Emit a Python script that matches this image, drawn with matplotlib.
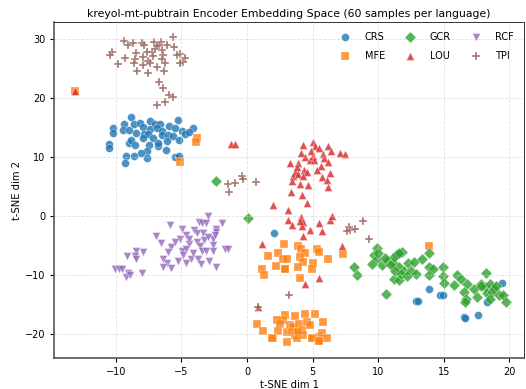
import matplotlib
matplotlib.use('Agg')
import matplotlib.pyplot as plt

# t-SNE coordinates, per language
crs_x = [-8.85, -10.25, -10.2, -9.4, -9.44, -9.0, -8.6, -8.17, -7.96, -8.47, -7.84, -7.4, -7.4, -7.58,
         -7.0, -6.64, -6.85, -6.46, -7.15, -6.5, -5.93, -6.0, -6.13, -5.5, -5.67, -5.3, -4.99, -5.2,
         -4.7, -4.1, -10.5, -10.5, -9.0, -8.88, -8.53, -7.48, -7.66, -8.1, -8.6, -9.24, -9.3, -7.66,
         -6.77, -6.2, -5.5, -5.17, -6.8, -7.9, -4.4, 2.08, 13.9, 14.7, 14.9, 12.9, 13.0, 16.5, 16.6,
         17.6, 18.3, 19.4]
crs_y = [16.8, 15.0, 14.2, 15.6, 14.6, 14.6, 15.7, 15.8, 15.1, 14.2, 14.0, 16.2, 14.8, 14.0,
         15.6, 15.7, 14.9, 14.5, 13.3, 13.7, 15.3, 13.7, 12.8, 14.9, 13.6, 16.3, 14.5, 13.0,
         14.0, 15.0, 12.2, 11.5, 12.5, 12.9, 12.1, 12.1, 11.1, 10.7, 10.2, 10.3, 9.0, 9.9,
         11.9, 11.3, 10.1, 10.3, 12.5, 13.2, 14.3, -2.9, -12.3, -13.3, -13.4, -14.4, -14.4, -17.1, -17.2,
         -16.8, -14.6, -11.3]

mfe_x = [2.82, 3.92, 4.1, 4.43, 5.32, 5.45, 6.16, 7.35, 1.63, 2.39, 2.77, 3.03, 4.05, 4.25, 2.19,
         2.9, 3.92, 5.01, 4.94, 1.12, 1.32, 4.05, 2.9,
         2.9, 2.77, 2.27, 2.52, 2.39, 1.96, 3.08, 3.03, 3.66, 3.28, 3.53, 3.41, 3.66, 3.84, 3.99,
         4.17, 4.3, 4.43, 4.6, 4.81, 4.94, 5.19, 5.45, 5.45, 5.7, 5.78, 6.13, 3.92, 0.74, 1.25,
         1.88, 4.94, 5.45, -13.1, -3.84, -3.92, -5.11, 13.9]
mfe_y = [-4.7, -5.0, -5.5, -6.3, -5.6, -6.0, -7.2, -6.4, -6.7, -6.2, -7.2, -7.2, -6.9, -7.8, -8.4,
         -8.9, -8.6, -8.0, -8.9, -8.9, -9.9, -10.4, -9.0,
         -16.8, -17.5, -17.6, -18.2, -19.5, -20.6, -19.6, -21.3, -16.9, -18.5, -18.8, -19.6, -20.2,
         -20.7, -18.2, -19.3, -20.2, -16.6, -17.9, -18.5, -20.7, -16.6, -20.5, -21.2, -19.8, -17.9,
         -20.6, -19.6, -18.3, -19.4, -20.6, -20.7, -21.1, 21.2, 13.3, 12.6, 9.2, -5.1]

gcr_x = [-2.39, 0.08, 8.17, 8.37, 10.6, 11.8, 11.4, 11.1, 11.55, 12.0, 12.3, 12.75, 12.5, 12.9,
         11.2, 11.6, 13.3, 13.9, 13.9, 14.2, 13.9, 14.9, 14.9, 15.0, 15.75, 16.0, 16.3, 16.8, 16.5,
         16.7, 16.6, 17.3, 17.5, 17.8, 18.2, 18.1, 18.3, 18.5, 18.7, 18.5, 18.85, 19.0, 19.2, 19.5,
         19.7, 17.8, 9.7, 9.9, 9.5, 10.3, 10.7, 11.0, 11.2, 11.55, 11.3, 11.7, 9.9, 9.97, 10.5, 12.2]
gcr_y = [5.9, -0.3, -8.6, -10.0, -13.1, -6.0, -6.4, -8.0, -8.6, -9.3, -7.9, -7.8, -9.3, -9.8,
         -10.7, -10.8, -7.2, -6.2, -8.6, -8.9, -10.0, -8.6, -10.2, -11.3, -11.7, -10.0, -10.6, -11.4,
         -12.8, -14.1, -14.5, -12.3, -13.7, -11.4, -9.6, -12.0, -13.0, -11.5, -12.8, -14.0, -12.3,
         -11.9, -13.4, -13.3, -14.5, -11.9, -6.6, -7.3, -8.1, -8.3, -7.5, -8.3, -6.9, -6.3, -9.3, -9.8,
         -5.3, -6.3, -7.0, -10.2]

lou_x = [4.3, 5.06, 5.19, 5.52, 6.16, 6.41, 7.05, 7.48, 4.1, 4.43, 4.76, 5.01, 5.14, 5.78, 5.83,
         6.16, 5.65, 3.28, 3.92, 3.66, 3.54, 3.92, 4.35, 4.6, 4.25, 3.46, 4.05, 4.68, 5.7, 6.08, 6.34,
         6.16, 3.33, 4.17, 4.55, 3.15, 3.15, 4.1, 4.3, 4.17, 4.81, 5.52, 5.7, 6.34, 6.51, 4.3, 7.23,
         1.96, 1.15, 4.38, 5.5, 0.84, -1.2, -0.95, -13.1, 4.9, 3.8, 5.3, 4.0, 3.4]
lou_y = [12.0, 12.6, 11.9, 11.6, 11.9, 11.1, 10.7, 10.5, 10.7, 10.1, 9.6, 10.2, 9.5, 10.5, 9.8,
         9.2, 8.6, 9.0, 9.0, 7.5, 6.9, 7.1, 7.9, 7.5, 6.9, 6.0, 5.4, 5.3, 6.7, 6.2, 7.4,
         4.9, 4.1, 3.6, 2.2, 1.0, -0.6, -0.2, -1.0, -1.7, -2.4, -1.1, -2.5, -0.6, 0.0, -3.4, -5.1,
         1.9, -4.7, -11.5, -10.4, -15.4, 12.3, 12.3, 21.2, 11.0, 8.3, 7.9, -0.8, -1.5]

rcf_x = [-2.95, -3.66, -3.4, -3.13, -1.93, -4.99, -4.05, -5.88, -2.39, -3.84, -3.33, -2.39, -4.66,
         -6.95, -5.11, -3.84, -3.28, -2.57, -2.44, -6.56, -4.43, -5.83, -3.59, -2.57, -6.0, -4.99,
         -4.66, -3.46, -3.13, -2.57, -1.68, -1.47, -4.86, -6.44, -5.24, -4.3, -3.71, -4.66, -6.13,
         -6.39, -5.83, -3.53, -2.88, -2.37, -8.47, -7.96, -9.18, -8.55, -8.47, -10.1, -9.75, -9.5,
         -9.06, -9.24, -8.93, -8.04, -4.1, -5.5, -3.0, -4.4]
rcf_y = [0.0, -1.0, -1.1, -1.2, -1.2, -2.1, -2.3, -1.5, -2.1, -2.8, -2.8, -2.6, -3.2,
         -3.4, -3.8, -4.4, -4.1, -3.8, -3.2, -4.5, -4.7, -5.2, -5.1, -4.9, -6.0, -5.9,
         -5.5, -5.8, -5.8, -5.9, -5.5, -5.5, -6.6, -7.2, -7.6, -7.2, -7.2, -8.0, -8.0,
         -8.6, -8.8, -8.1, -7.6, -8.6, -5.8, -6.0, -6.8, -6.8, -7.3, -8.9, -9.0, -9.0,
         -9.6, -10.3, -10.0, -9.6, -6.2, -4.3, -3.5, -3.8]

tpi_x = [-5.67, -9.37, -9.06, -8.68, -8.04, -7.86, -7.1, -6.59, -6.13, -5.57, -10.33, -10.46, -9.3,
         -9.87, -8.47, -8.55, -8.6, -8.37, -7.9, -7.53, -7.58, -7.27, -7.15, -7.0, -7.4, -6.85, -6.5,
         -6.39, -6.5, -6.26, -6.34, -6.69, -5.11, -5.32, -4.73, -4.91, -5.11, -6.69, -6.39, -5.95,
         -5.67, -6.26, -6.85, -7.66, -7.96, -6.9, -1.43, -0.92, -0.4, -0.28, -1.35, 0.66, 8.83, 7.74,
         7.86, 8.24, 7.6, 9.29, 3.23, 0.81]
tpi_y = [30.4, 29.7, 29.0, 29.4, 29.4, 29.0, 29.6, 29.6, 29.0, 28.7, 27.8, 27.3, 26.9,
         25.8, 27.7, 26.7, 25.9, 24.7, 25.6, 26.4, 24.3, 27.9, 27.1, 28.4, 25.9, 25.3, 28.1,
         27.3, 26.7, 25.9, 24.7, 29.0, 27.5, 27.3, 26.9, 26.2, 25.9, 22.8, 21.8, 20.5,
         20.2, 19.4, 18.8, 27.8, 27.0, 28.9, 5.5, 5.7, 6.8, 6.4, 4.2, 5.8, -0.8, -1.8,
         -2.3, -2.2, -2.5, -3.8, -13.4, -15.3]

langs = ['CRS', 'MFE', 'GCR', 'LOU', 'RCF', 'TPI']
xs = [crs_x, mfe_x, gcr_x, lou_x, rcf_x, tpi_x]
ys = [crs_y, mfe_y, gcr_y, lou_y, rcf_y, tpi_y]
markers = ['o', 's', 'D', '^', 'v', 'P']
colors = ['#1f77b4', '#ff7f0e', '#2ca02c', '#d62728', '#9467bd', '#8c564b']

fig = plt.figure(figsize=(5.26, 3.89), dpi=100)
ax = fig.add_axes([0.103, 0.080, 0.893, 0.863])

for lang, x, y, m, c in zip(langs, xs, ys, markers, colors):
    ax.scatter(x, y, marker=m, c=c, s=33, alpha=0.8, edgecolors='white', linewidths=0.3, label=lang)

ax.set_xlim(-14.7, 21.1)
ax.set_ylim(-24, 32.9)
ax.set_xticks([-10, -5, 0, 5, 10, 15, 20])
ax.set_yticks([-20, -10, 0, 10, 20, 30])
ax.grid(True, linestyle='--', color='#cccccc', alpha=0.6, linewidth=0.6)
ax.tick_params(labelsize=7, length=3, width=0.8)
for s in ['left', 'bottom']:
    ax.spines[s].set_color('#555555')
    ax.spines[s].set_linewidth(1.2)
for s in ['top', 'right']:
    ax.spines[s].set_color('#333333')
    ax.spines[s].set_linewidth(0.7)
ax.set_xlabel('t-SNE dim 1', fontsize=7.2, labelpad=2)
ax.set_ylabel('t-SNE dim 2', fontsize=7.2, labelpad=2)
ax.set_title('kreyol-mt-pubtrain Encoder Embedding Space (60 samples per language)', fontsize=7.8, pad=4)
ax.legend(ncol=3, loc='upper right', fontsize=7, frameon=False, columnspacing=1.6,
          handletextpad=1.0, labelspacing=0.9, borderaxespad=0.6)

fig.savefig('out.png', dpi=100)
